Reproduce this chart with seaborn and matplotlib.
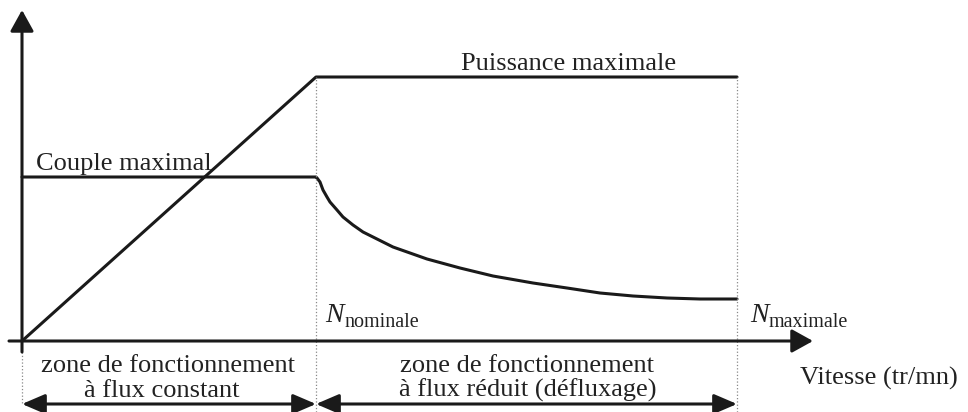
import pandas as pd
import matplotlib.pyplot as plt
import seaborn as sns

# ── DATA (arbitrary units) ──────────────────────────────────
vitesse_nominale = 294
vitesse_maximale = 715

vitesse_puissance = [0, 294, 715]
puissance = [0, 264, 264]

vitesse_couple = [0, 294, 295, 298, 301, 305, 308, 315, 321, 331, 341,
                  355, 371, 405, 438, 471, 511, 545, 578, 611, 645, 678,
                  713, 715]
couple = [164, 164, 163, 159, 151, 144, 139, 131, 124, 116, 109,
          102, 94, 82, 73, 65, 58, 53, 48, 45, 43, 42,
          42, 42]

df_p = pd.DataFrame({'vitesse': vitesse_puissance, 'valeur': puissance})
df_c = pd.DataFrame({'vitesse': vitesse_couple, 'valeur': couple})

# ── STYLE ───────────────────────────────────────────────────
sns.set_style('white')
plt.rcParams['font.family'] = ['Liberation Serif', 'DejaVu Serif']

fig = plt.figure(figsize=(9.68, 4.12), dpi=100)
ax = fig.add_axes([0, 0, 1, 1])
ax.set_xlim(-22, 946)
ax.set_ylim(-71, 341)
ax.axis('off')

# ── CURVES ──────────────────────────────────────────────────
sns.lineplot(data=df_p, x='vitesse', y='valeur', color='#1a1a1a', lw=2.2,
             sort=False, ax=ax)
sns.lineplot(data=df_c, x='vitesse', y='valeur', color='#1a1a1a', lw=2.2,
             sort=False, ax=ax)

# dotted verticals
ax.plot([0, 0], [-11, -64], ls=':', color='#888888', lw=0.9)
for xv in [vitesse_nominale, vitesse_maximale]:
    ax.plot([xv, xv], [-71, 264], ls=':', color='#888888', lw=0.9)

# ── AXES WITH ARROWS ────────────────────────────────────────
head = '-|>,head_length=0.65,head_width=0.36'
ax.annotate('', xy=(0, 331), xytext=(0, -11),
            arrowprops=dict(arrowstyle=head, lw=2.2, color='#1a1a1a',
                            mutation_scale=20, shrinkA=0, shrinkB=0))
ax.annotate('', xy=(791, 0), xytext=(-13, 0),
            arrowprops=dict(arrowstyle=head, lw=2.2, color='#1a1a1a',
                            mutation_scale=20, shrinkA=0, shrinkB=0))

# zone arrows
both = '<|-|>,head_length=0.7,head_width=0.3'
for x0, x1 in [(0, vitesse_nominale), (vitesse_nominale, vitesse_maximale)]:
    ax.annotate('', xy=(x1, -63), xytext=(x0, -63),
                arrowprops=dict(arrowstyle=both, lw=2.2, color='#1a1a1a',
                                mutation_scale=20, shrinkA=0, shrinkB=0))

# ── TEXTS ───────────────────────────────────────────────────
fs = 19
col = '#222222'
ax.text(14, 171, 'Couple maximal', fontsize=fs, color=col, va='baseline')
ax.text(547, 271, 'Puissance maximale', fontsize=fs, color=col,
        ha='center', va='baseline')

# N with subscripts
for xn, sub in [(303, 'nominale'), (728, 'maximale')]:
    ax.text(xn, 19, 'N', fontsize=20, style='italic', color=col,
            va='baseline')
    ax.text(xn + 19, 14, sub, fontsize=14.5, color=col, va='baseline')

ax.text(146, -31, 'zone de fonctionnement', fontsize=fs, color=col,
        ha='center', va='baseline')
ax.text(140, -56, 'à flux constant', fontsize=fs, color=col,
        ha='center', va='baseline')
ax.text(505, -31, 'zone de fonctionnement', fontsize=fs, color=col,
        ha='center', va='baseline')
ax.text(506, -56, 'à flux réduit (défluxage)', fontsize=fs, color=col,
        ha='center', va='baseline')
ax.text(778, -44, 'Vitesse (tr/mn)', fontsize=fs, color=col, va='baseline')

plt.savefig('out.png', dpi=100)
